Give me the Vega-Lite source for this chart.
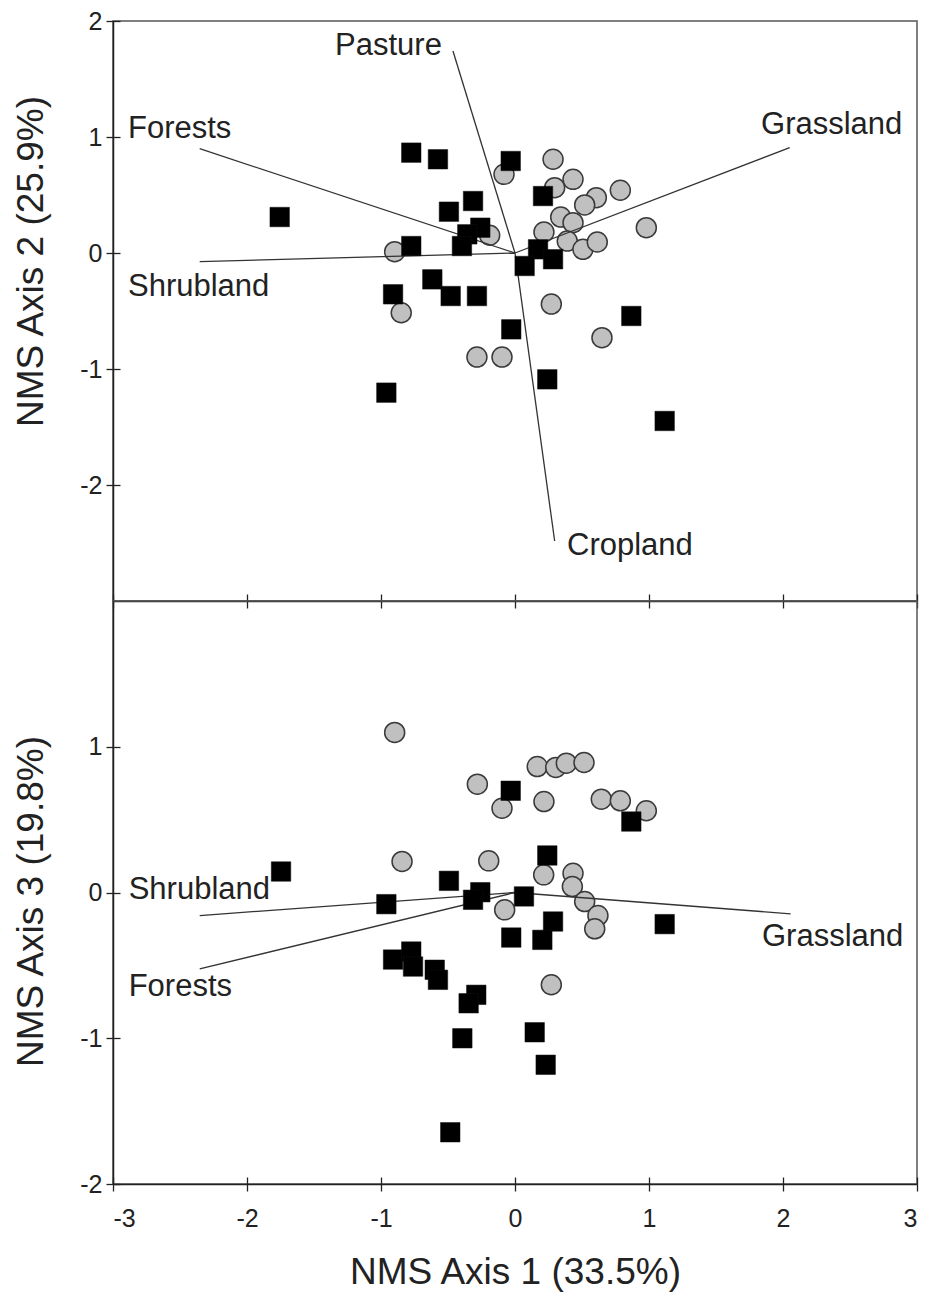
{
  "$schema": "https://vega.github.io/schema/vega-lite/v6.json",
  "autosize": {"type": "pad"},
  "padding": {"left": 12, "top": 8, "right": 8, "bottom": 8},
  "background": "white",
  "bounds": "flush",
  "spacing": 0,
  "config": {
    "font": "Liberation Sans",
    "view": {"stroke": "#555", "strokeWidth": 1.5},
    "axis": {
      "grid": false,
      "labelFont": "Liberation Sans",
      "titleFont": "Liberation Sans",
      "titleFontWeight": "normal",
      "domainColor": "#222",
      "domainWidth": 1.5,
      "tickColor": "#222",
      "tickWidth": 1.3,
      "labelColor": "#222",
      "titleColor": "#222",
      "labelFontSize": 25,
      "titleFontSize": 37,
      "labelExpr": "toString(datum.value)"
    }
  },
  "datasets": {
    "sites": [
      {"panel": "top", "group": "B", "x": 0.284, "y": 0.808},
      {"panel": "top", "group": "B", "x": -0.082, "y": 0.678},
      {"panel": "top", "group": "B", "x": 0.433, "y": 0.635},
      {"panel": "top", "group": "B", "x": 0.296, "y": 0.563},
      {"panel": "top", "group": "B", "x": 0.607, "y": 0.477},
      {"panel": "top", "group": "B", "x": 0.786, "y": 0.541},
      {"panel": "top", "group": "B", "x": 0.52, "y": 0.414},
      {"panel": "top", "group": "B", "x": 0.341, "y": 0.31},
      {"panel": "top", "group": "B", "x": 0.433, "y": 0.261},
      {"panel": "top", "group": "B", "x": 0.216, "y": 0.181},
      {"panel": "top", "group": "B", "x": -0.189, "y": 0.153},
      {"panel": "top", "group": "B", "x": 0.39, "y": 0.103},
      {"panel": "top", "group": "B", "x": 0.507, "y": 0.032},
      {"panel": "top", "group": "B", "x": 0.614, "y": 0.095},
      {"panel": "top", "group": "B", "x": -0.898, "y": 0.011},
      {"panel": "top", "group": "B", "x": 0.98, "y": 0.218},
      {"panel": "top", "group": "B", "x": 0.271, "y": -0.44},
      {"panel": "top", "group": "B", "x": -0.849, "y": -0.515},
      {"panel": "top", "group": "B", "x": 0.649, "y": -0.73},
      {"panel": "top", "group": "B", "x": -0.284, "y": -0.897},
      {"panel": "top", "group": "B", "x": -0.097, "y": -0.897},

      {"panel": "top", "group": "A", "x": -1.756, "y": 0.31},
      {"panel": "top", "group": "A", "x": -0.774, "y": 0.865},
      {"panel": "top", "group": "A", "x": -0.575, "y": 0.808},
      {"panel": "top", "group": "A", "x": -0.032, "y": 0.793},
      {"panel": "top", "group": "A", "x": 0.209, "y": 0.491},
      {"panel": "top", "group": "A", "x": -0.313, "y": 0.448},
      {"panel": "top", "group": "A", "x": -0.493, "y": 0.356},
      {"panel": "top", "group": "A", "x": -0.259, "y": 0.218},
      {"panel": "top", "group": "A", "x": -0.356, "y": 0.161},
      {"panel": "top", "group": "A", "x": -0.396, "y": 0.06},
      {"panel": "top", "group": "A", "x": -0.774, "y": 0.06},
      {"panel": "top", "group": "A", "x": 0.172, "y": 0.032},
      {"panel": "top", "group": "A", "x": 0.072, "y": -0.112},
      {"panel": "top", "group": "A", "x": 0.284, "y": -0.054},
      {"panel": "top", "group": "A", "x": -0.617, "y": -0.227},
      {"panel": "top", "group": "A", "x": -0.91, "y": -0.356},
      {"panel": "top", "group": "A", "x": -0.48, "y": -0.371},
      {"panel": "top", "group": "A", "x": -0.284, "y": -0.371},
      {"panel": "top", "group": "A", "x": -0.96, "y": -1.204},
      {"panel": "top", "group": "A", "x": -0.028, "y": -0.658},
      {"panel": "top", "group": "A", "x": 0.868, "y": -0.543},
      {"panel": "top", "group": "A", "x": 0.241, "y": -1.089},
      {"panel": "top", "group": "A", "x": 1.117, "y": -1.448},

      {"panel": "bottom", "group": "B", "x": -0.898, "y": 1.098},
      {"panel": "bottom", "group": "B", "x": 0.166, "y": 0.864},
      {"panel": "bottom", "group": "B", "x": 0.304, "y": 0.858},
      {"panel": "bottom", "group": "B", "x": 0.383, "y": 0.887},
      {"panel": "bottom", "group": "B", "x": 0.515, "y": 0.892},
      {"panel": "bottom", "group": "B", "x": -0.281, "y": 0.743},
      {"panel": "bottom", "group": "B", "x": -0.097, "y": 0.578},
      {"panel": "bottom", "group": "B", "x": 0.216, "y": 0.624},
      {"panel": "bottom", "group": "B", "x": 0.644, "y": 0.64},
      {"panel": "bottom", "group": "B", "x": 0.786, "y": 0.629},
      {"panel": "bottom", "group": "B", "x": 0.98, "y": 0.561},
      {"panel": "bottom", "group": "B", "x": -0.843, "y": 0.213},
      {"panel": "bottom", "group": "B", "x": -0.196, "y": 0.217},
      {"panel": "bottom", "group": "B", "x": 0.214, "y": 0.121},
      {"panel": "bottom", "group": "B", "x": 0.433, "y": 0.132},
      {"panel": "bottom", "group": "B", "x": 0.428, "y": 0.041},
      {"panel": "bottom", "group": "B", "x": 0.52, "y": -0.062},
      {"panel": "bottom", "group": "B", "x": -0.077, "y": -0.119},
      {"panel": "bottom", "group": "B", "x": 0.619, "y": -0.158},
      {"panel": "bottom", "group": "B", "x": 0.595, "y": -0.249},
      {"panel": "bottom", "group": "B", "x": 0.271, "y": -0.633},

      {"panel": "bottom", "group": "A", "x": -1.746, "y": 0.144},
      {"panel": "bottom", "group": "A", "x": -0.032, "y": 0.698},
      {"panel": "bottom", "group": "A", "x": 0.868, "y": 0.487},
      {"panel": "bottom", "group": "A", "x": 0.241, "y": 0.254},
      {"panel": "bottom", "group": "A", "x": -0.493, "y": 0.08},
      {"panel": "bottom", "group": "A", "x": -0.259, "y": 0.002},
      {"panel": "bottom", "group": "A", "x": -0.313, "y": -0.05},
      {"panel": "bottom", "group": "A", "x": 0.067, "y": -0.027},
      {"panel": "bottom", "group": "A", "x": -0.96, "y": -0.08},
      {"panel": "bottom", "group": "A", "x": 0.284, "y": -0.199},
      {"panel": "bottom", "group": "A", "x": -0.028, "y": -0.309},
      {"panel": "bottom", "group": "A", "x": 0.204, "y": -0.325},
      {"panel": "bottom", "group": "A", "x": 1.117, "y": -0.217},
      {"panel": "bottom", "group": "A", "x": -0.91, "y": -0.46},
      {"panel": "bottom", "group": "A", "x": -0.774, "y": -0.405},
      {"panel": "bottom", "group": "A", "x": -0.761, "y": -0.508},
      {"panel": "bottom", "group": "A", "x": -0.599, "y": -0.53},
      {"panel": "bottom", "group": "A", "x": -0.575, "y": -0.599},
      {"panel": "bottom", "group": "A", "x": -0.289, "y": -0.702},
      {"panel": "bottom", "group": "A", "x": -0.346, "y": -0.76},
      {"panel": "bottom", "group": "A", "x": -0.393, "y": -1.0},
      {"panel": "bottom", "group": "A", "x": 0.147, "y": -0.959},
      {"panel": "bottom", "group": "A", "x": 0.229, "y": -1.182},
      {"panel": "bottom", "group": "A", "x": -0.483, "y": -1.645}
    ],
    "vectors": [
      {"panel": "top", "name": "Pasture", "xe": -0.463, "ye": 1.741, "lx": -1.343, "ly": 1.784},
      {"panel": "top", "name": "Cropland", "xe": 0.296, "ye": -2.483, "lx": 0.388, "ly": -2.526},
      {"panel": "top", "name": "Forests", "xe": -2.353, "ye": 0.899, "lx": -2.888, "ly": 1.069},
      {"panel": "top", "name": "Shrubland", "xe": -2.353, "ye": -0.075, "lx": -2.888, "ly": -0.293},
      {"panel": "top", "name": "Grassland", "xe": 2.05, "ye": 0.908, "lx": 1.836, "ly": 1.103},
      {"panel": "bottom", "name": "Shrubland", "xe": -2.353, "ye": -0.158, "lx": -2.883, "ly": 0.014},
      {"panel": "bottom", "name": "Forests", "xe": -2.353, "ye": -0.524, "lx": -2.883, "ly": -0.645},
      {"panel": "bottom", "name": "Grassland", "xe": 2.057, "ye": -0.146, "lx": 1.843, "ly": -0.302}
    ]
  },
  "vconcat": [
    {
      "width": 804,
      "height": 580,
      "resolve": {"axis": {"x": "independent", "y": "independent"}},
      "layer": [
        {
          "data": {"name": "sites"},
          "transform": [{"filter": "datum.panel === 'top' && datum.group === 'B'"}],
          "mark": {"type": "point", "shape": "circle", "filled": true, "fill": "#c0c0c0", "stroke": "#3a3a3a", "strokeWidth": 1.5, "size": 400, "opacity": 1},
          "encoding": {
            "x": {"field": "x", "type": "quantitative", "scale": {"domain": [-3, 3], "nice": false, "zero": false},
                  "axis": {"orient": "bottom", "values": [-3, -2, -1, 0, 1, 2, 3], "labels": false, "tickSize": 7, "title": null}},
            "y": {"field": "y", "type": "quantitative", "scale": {"domain": [-3, 2], "nice": false, "zero": false},
                  "axis": {"orient": "left", "values": [-2, -1, 0, 1, 2], "tickSize": 7, "labelPadding": 4, "title": "NMS Axis 2 (25.9%)", "titlePadding": 29, "titleY": 240}}
          }
        },
        {
          "data": {"name": "vectors"},
          "transform": [{"filter": "datum.panel === 'top'"}],
          "mark": {"type": "rule", "stroke": "#333", "strokeWidth": 1.3},
          "encoding": {
            "x": {"field": "xe", "type": "quantitative", "scale": {"domain": [-3, 3], "nice": false, "zero": false},
                  "axis": {"orient": "bottom", "values": [-3, -2, -1, 0, 1, 2, 3], "labels": false, "domain": false, "tickSize": -7, "title": null}},
            "y": {"field": "ye", "type": "quantitative", "scale": {"domain": [-3, 2], "nice": false, "zero": false},
                  "axis": {"orient": "left", "values": [-2, -1, 0, 1, 2], "labels": false, "domain": false, "tickSize": -7, "title": null}},
            "x2": {"datum": 0},
            "y2": {"datum": 0}
          }
        },
        {
          "data": {"name": "sites"},
          "transform": [{"filter": "datum.panel === 'top' && datum.group === 'A'"}],
          "mark": {"type": "point", "shape": "square", "filled": true, "fill": "#000", "stroke": "#111", "strokeWidth": 0.5, "size": 380, "opacity": 1},
          "encoding": {
            "x": {"field": "x", "type": "quantitative", "scale": {"domain": [-3, 3], "nice": false, "zero": false}, "axis": null},
            "y": {"field": "y", "type": "quantitative", "scale": {"domain": [-3, 2], "nice": false, "zero": false}, "axis": null}
          }
        },
        {
          "data": {"name": "vectors"},
          "transform": [{"filter": "datum.panel === 'top'"}],
          "mark": {"type": "text", "align": "left", "baseline": "middle", "fontSize": 31, "font": "Liberation Sans", "fill": "#222"},
          "encoding": {
            "x": {"field": "lx", "type": "quantitative", "scale": {"domain": [-3, 3], "nice": false, "zero": false}, "axis": null},
            "y": {"field": "ly", "type": "quantitative", "scale": {"domain": [-3, 2], "nice": false, "zero": false}, "axis": null},
            "text": {"field": "name"}
          }
        }
      ]
    },
    {
      "width": 804,
      "height": 583,
      "resolve": {"axis": {"x": "independent", "y": "independent"}},
      "layer": [
        {
          "data": {"name": "sites"},
          "transform": [{"filter": "datum.panel === 'bottom' && datum.group === 'B'"}],
          "mark": {"type": "point", "shape": "circle", "filled": true, "fill": "#c0c0c0", "stroke": "#3a3a3a", "strokeWidth": 1.5, "size": 400, "opacity": 1},
          "encoding": {
            "x": {"field": "x", "type": "quantitative", "scale": {"domain": [-3, 3], "nice": false, "zero": false},
                  "axis": {"orient": "bottom", "values": [-3, -2, -1, 0, 1, 2, 3], "tickSize": 7, "labelPadding": 15, "title": "NMS Axis 1 (33.5%)", "titlePadding": 23}},
            "y": {"field": "y", "type": "quantitative", "scale": {"domain": [-2, 2], "nice": false, "zero": false},
                  "axis": {"orient": "left", "values": [-2, -1, 0, 1], "tickSize": 7, "labelPadding": 4, "title": "NMS Axis 3 (19.8%)", "titlePadding": 29, "titleY": 300}}
          }
        },
        {
          "data": {"name": "vectors"},
          "transform": [{"filter": "datum.panel === 'bottom'"}],
          "mark": {"type": "rule", "stroke": "#333", "strokeWidth": 1.3},
          "encoding": {
            "x": {"field": "xe", "type": "quantitative", "scale": {"domain": [-3, 3], "nice": false, "zero": false},
                  "axis": {"orient": "bottom", "values": [-3, -2, -1, 0, 1, 2, 3], "labels": false, "domain": false, "tickSize": -7, "title": null}},
            "y": {"field": "ye", "type": "quantitative", "scale": {"domain": [-2, 2], "nice": false, "zero": false},
                  "axis": {"orient": "left", "values": [-2, -1, 0, 1], "labels": false, "domain": false, "tickSize": -7, "title": null}},
            "x2": {"datum": 0},
            "y2": {"datum": 0}
          }
        },
        {
          "data": {"name": "sites"},
          "transform": [{"filter": "datum.panel === 'bottom' && datum.group === 'A'"}],
          "mark": {"type": "point", "shape": "square", "filled": true, "fill": "#000", "stroke": "#111", "strokeWidth": 0.5, "size": 380, "opacity": 1},
          "encoding": {
            "x": {"field": "x", "type": "quantitative", "scale": {"domain": [-3, 3], "nice": false, "zero": false}, "axis": null},
            "y": {"field": "y", "type": "quantitative", "scale": {"domain": [-2, 2], "nice": false, "zero": false}, "axis": null}
          }
        },
        {
          "data": {"name": "vectors"},
          "transform": [{"filter": "datum.panel === 'bottom'"}],
          "mark": {"type": "text", "align": "left", "baseline": "middle", "fontSize": 31, "font": "Liberation Sans", "fill": "#222"},
          "encoding": {
            "x": {"field": "lx", "type": "quantitative", "scale": {"domain": [-3, 3], "nice": false, "zero": false}, "axis": null},
            "y": {"field": "ly", "type": "quantitative", "scale": {"domain": [-2, 2], "nice": false, "zero": false}, "axis": null},
            "text": {"field": "name"}
          }
        }
      ]
    }
  ]
}
